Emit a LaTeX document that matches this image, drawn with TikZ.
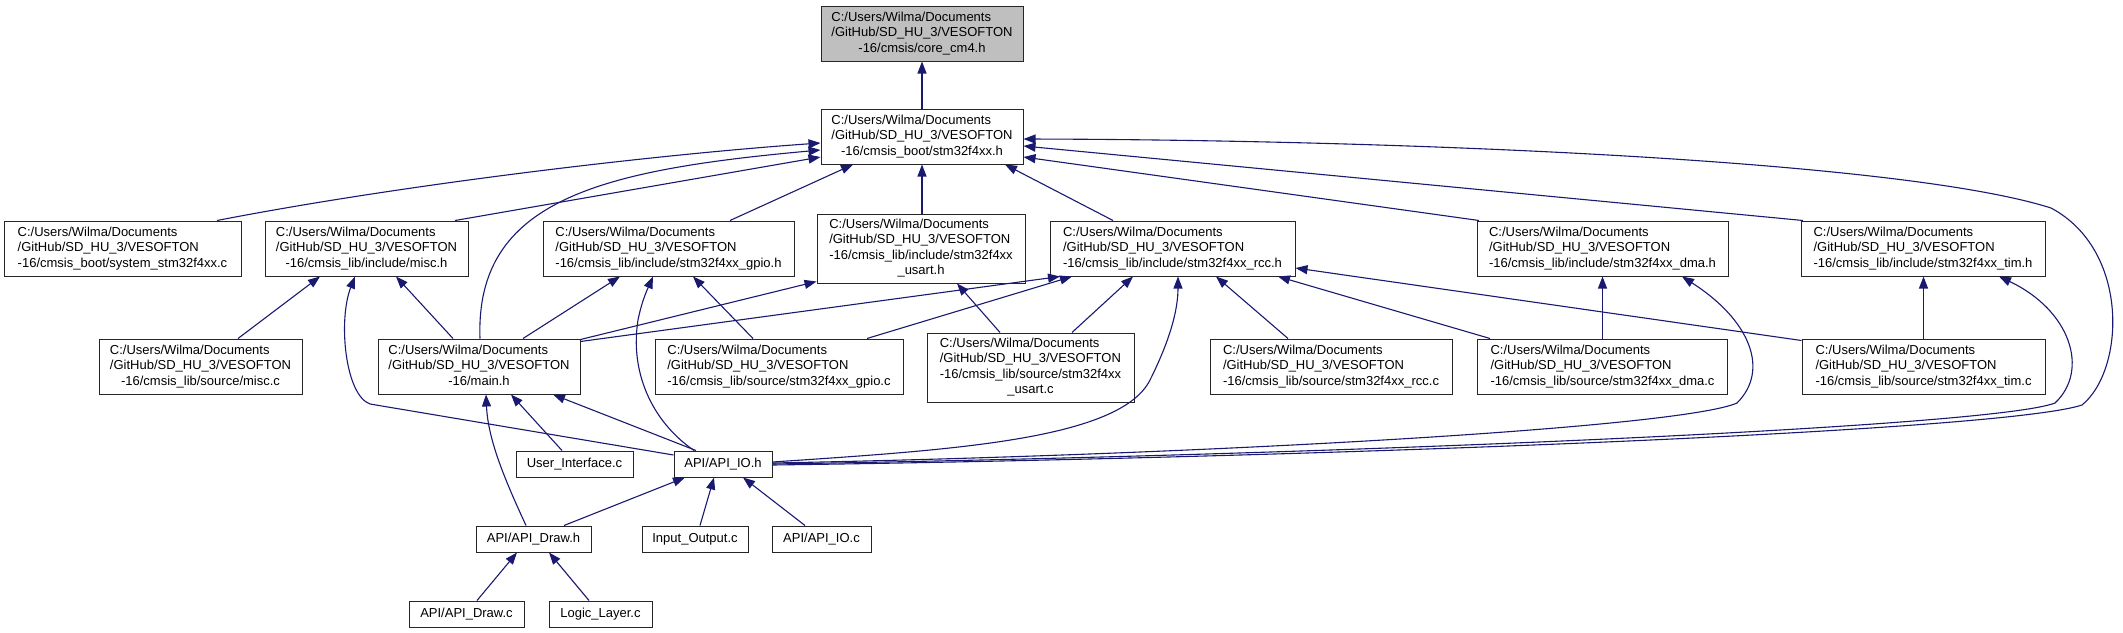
\documentclass[tikz,border=0pt]{standalone}
\usepackage{fontspec}
\setmainfont{Liberation Sans}
\usetikzlibrary{arrows.meta}
\definecolor{edgecol}{HTML}{191970}
\definecolor{nodegray}{HTML}{BFBFBF}
\newcommand{\lastl}[1]{\multicolumn{1}{@{}c@{}}{#1}}
\newcommand{\nt}[1]{\begin{tabular}{@{}l@{}}#1\end{tabular}}
\newcommand{\pre}{C:/Users/Wilma/Documents\\/GitHub/SD\_HU\_3/VESOFTON\\}
\begin{document}
\begin{tikzpicture}[x=1pt,y=-1pt,
  font=\fontsize{13}{15.5}\selectfont,
  box/.style={draw=black!85, line width=1pt, fill=white, inner sep=0pt, minimum height=55pt},
  sbox/.style={box, minimum height=26pt},
  e/.style={draw=edgecol, line width=1.1pt, -{Triangle[length=12pt,width=9pt,fill=edgecol]}}]
\useasboundingbox (0,0) rectangle (2123,632);
% nodes
\node[box, minimum width=202pt, fill=nodegray] (core) at (922,33.5) {\nt{\pre\lastl{-16/cmsis/core\_cm4.h}}};
\node[box, minimum width=202pt] (stm) at (922,136.5) {\nt{\pre\lastl{-16/cmsis\_boot/stm32f4xx.h}}};
\node[box, minimum width=237pt] (system) at (122.5,248.5) {\nt{\pre\lastl{-16/cmsis\_boot/system\_stm32f4xx.c}}};
\node[box, minimum width=203pt] (misch) at (366.5,248.5) {\nt{\pre\lastl{-16/cmsis\_lib/include/misc.h}}};
\node[box, minimum width=251pt] (gpioh) at (668.5,248.5) {\nt{\pre\lastl{-16/cmsis\_lib/include/stm32f4xx\_gpio.h}}};
\node[box, minimum width=208pt, minimum height=69pt] (usarth) at (921,248.5) {\nt{\pre-16/cmsis\_lib/include/stm32f4xx\\\lastl{\_usart.h}}};
\node[box, minimum width=245pt] (rcch) at (1172.5,248.5) {\nt{\pre\lastl{-16/cmsis\_lib/include/stm32f4xx\_rcc.h}}};
\node[box, minimum width=251pt] (dmah) at (1602.5,248.5) {\nt{\pre\lastl{-16/cmsis\_lib/include/stm32f4xx\_dma.h}}};
\node[box, minimum width=244pt] (timh) at (1923,248.5) {\nt{\pre\lastl{-16/cmsis\_lib/include/stm32f4xx\_tim.h}}};
\node[box, minimum width=203pt] (miscc) at (200.5,366.5) {\nt{\pre\lastl{-16/cmsis\_lib/source/misc.c}}};
\node[box, minimum width=202pt] (mainh) at (479,366.5) {\nt{\pre\lastl{-16/main.h}}};
\node[box, minimum width=248pt] (gpioc) at (779,366.5) {\nt{\pre\lastl{-16/cmsis\_lib/source/stm32f4xx\_gpio.c}}};
\node[box, minimum width=207pt, minimum height=69pt] (usartc) at (1030.5,367.5) {\nt{\pre-16/cmsis\_lib/source/stm32f4xx\\\lastl{\_usart.c}}};
\node[box, minimum width=242pt] (rccc) at (1331,366.5) {\nt{\pre\lastl{-16/cmsis\_lib/source/stm32f4xx\_rcc.c}}};
\node[box, minimum width=250pt] (dmac) at (1602.5,366.5) {\nt{\pre\lastl{-16/cmsis\_lib/source/stm32f4xx\_dma.c}}};
\node[box, minimum width=243pt] (timc) at (1923.5,366.5) {\nt{\pre\lastl{-16/cmsis\_lib/source/stm32f4xx\_tim.c}}};
\node[sbox, minimum width=117pt] (ui) at (574.5,464) {User\_Interface.c};
\node[sbox, minimum width=98pt] (apiioh) at (723,464) {API/API\_IO.h};
\node[sbox, minimum width=115pt] (apidrawh) at (533.5,539) {API/API\_Draw.h};
\node[sbox, minimum width=106pt] (inout) at (695,539) {Input\_Output.c};
\node[sbox, minimum width=99pt] (apiioc) at (821.5,539) {API/API\_IO.c};
\node[sbox, minimum width=115pt] (apidrawc) at (466.5,614) {API/API\_Draw.c};
\node[sbox, minimum width=103pt] (logic) at (600.5,614) {Logic\_Layer.c};
% edges into stm32f4xx.h and core
\draw[e] (stm.north) -- (core.south);
\draw[e] ([xshift=94.5pt]system.north) .. controls (400,185) and (650,155) .. ([yshift=-6.5pt]stm.west);
\draw[e] ([xshift=88.5pt]misch.north) -- ([yshift=-20.5pt]stm.west);
\draw[e] ([xshift=1pt]mainh.north) .. controls (475,200) and (600,170) .. ([yshift=-13.5pt]stm.west);
\draw[e] ([xshift=61.5pt]gpioh.north) -- ([xshift=-69pt]stm.south);
\draw[e] ([xshift=1pt]usarth.north) -- ([xshift=0pt]stm.south);
\draw[e] ([xshift=-59.5pt]rcch.north) -- ([xshift=83pt]stm.south);
\draw[e] ([xshift=-123.5pt]dmah.north) -- ([yshift=-20.5pt]stm.east);
\draw[e] ([xshift=-120pt]timh.north) -- ([yshift=-9.5pt]stm.east);
\draw[e] ([yshift=-1pt]apiioh.east) .. controls (1300,458) and (2000,432) .. (2082,405)
   .. controls (2125,370) and (2130,250) .. (2051,208)
   .. controls (1900,160) and (1400,140) .. ([yshift=-2.5pt]stm.east);
% API_IO.h long curves
\draw[e] ([yshift=0pt]apiioh.east) .. controls (1300,456) and (1990,428) .. (2055,403)
   .. controls (2090,370) and (2070,310) .. ([xshift=76pt]timh.south);
\draw[e] ([yshift=1pt]apiioh.east) .. controls (1200,455) and (1680,428) .. (1737,403)
   .. controls (1770,370) and (1750,320) .. ([xshift=79.5pt]dmah.south);
\draw[e] ([yshift=2pt]apiioh.east) .. controls (950,450) and (1120,440) .. (1150,380)
   .. controls (1170,340) and (1178,310) .. ([xshift=5.5pt]rcch.south);
\draw[e] ([xshift=-29pt]apiioh.north) .. controls (650,420) and (630,370) .. (638,320)
   .. controls (642,300) and (648,288) .. ([xshift=-15.5pt]gpioh.south);
\draw[e] ([xshift=-27pt]apiioh.north) -- ([xshift=74pt]mainh.south);
\draw[e] ([yshift=9pt]apiioh.west) -- (370,404) .. controls (345,395) and (338,320) .. ([xshift=-11.5pt]misch.south);
% row 3 -> row 2
\draw[e] ([xshift=37.5pt]miscc.north) -- ([xshift=-46.5pt]misch.south);
\draw[e] ([xshift=-26pt]mainh.north) -- ([xshift=29.5pt]misch.south);
\draw[e] ([xshift=44pt]mainh.north) -- ([xshift=-48.5pt]gpioh.south);
\draw[e] ([xshift=-26pt]gpioc.north) -- ([xshift=24.5pt]gpioh.south);
\draw[e] ([yshift=-1pt]mainh.north east) -- ([yshift=2pt]usarth.south west);
\draw[e] ([yshift=-3pt]mainh.north east) -- ([xshift=-112.5pt]rcch.south);
\draw[e] ([xshift=88pt]gpioc.north) -- ([xshift=-100.5pt]rcch.south);
\draw[e] ([xshift=-30.5pt]usartc.north) -- ([xshift=36pt]usarth.south);
\draw[e] ([xshift=41.5pt]usartc.north) -- ([xshift=-39.5pt]rcch.south);
\draw[e] ([xshift=-43pt]rccc.north) -- ([xshift=43.5pt]rcch.south);
\draw[e] ([xshift=-112.5pt]dmac.north) -- ([xshift=105.5pt]rcch.south);
\draw[e] ([yshift=-2pt]timc.north west) -- ([yshift=-19.5pt]rcch.east);
\draw[e] (dmac.north) -- (dmac.north |- dmah.south);
\draw[e] (timc.north) -- (timc.north |- timh.south);
% bottom rows
\draw[e] ([xshift=-7.5pt]apidrawh.north) .. controls (505,480) and (488,440) .. ([xshift=7pt]mainh.south);
\draw[e] ([xshift=-12.5pt]ui.north) -- ([xshift=32pt]mainh.south);
\draw[e] ([xshift=30.5pt]apidrawh.north) -- ([xshift=-38pt]apiioh.south);
\draw[e] ([xshift=5pt]inout.north) -- ([xshift=-9pt]apiioh.south);
\draw[e] ([xshift=-16.5pt]apiioc.north) -- ([xshift=20pt]apiioh.south);
\draw[e] ([xshift=10.5pt]apidrawc.north) -- ([xshift=-16.5pt]apidrawh.south);
\draw[e] ([xshift=-11.5pt]logic.north) -- ([xshift=15.5pt]apidrawh.south);
\end{tikzpicture}
\end{document}
